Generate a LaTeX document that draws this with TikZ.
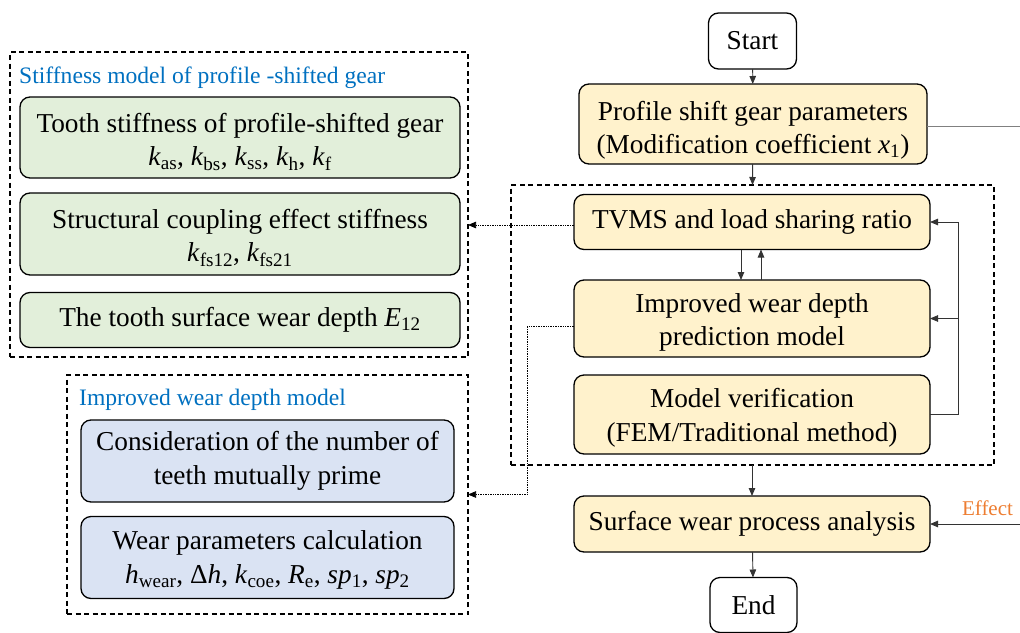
\documentclass[tikz,border=0pt]{standalone}
\usepackage{fontspec}
\setmainfont{Liberation Serif}
\usetikzlibrary{arrows.meta}
\definecolor{boxyellow}{HTML}{FFF2CC}
\definecolor{boxgreen}{HTML}{E2EFDA}
\definecolor{boxblue}{HTML}{DAE3F3}
\definecolor{titleblue}{HTML}{0070C0}
\definecolor{effectorange}{HTML}{ED7D31}
\definecolor{linegray}{HTML}{333333}
% tall strut that lowers a two-line label inside its box
\newcommand\lowerstrut[1]{\rule{0pt}{#1}}
\begin{document}
\begin{tikzpicture}[x=1pt,y=-1pt,
  basebox/.style={draw=black, line width=1.3pt, rounded corners=10pt, align=center,
    inner sep=0pt, outer sep=0pt, font=\fontsize{27.3}{33.5}\selectfont},
  flowbox/.style={basebox, fill=boxyellow},
  termbox/.style={basebox, fill=white},
  greenbox/.style={basebox, fill=boxgreen},
  bluebox/.style={basebox, fill=boxblue},
  groupbox/.style={draw=black, line width=1.2pt, dash pattern=on 5pt off 3.5pt,
    inner sep=0pt, outer sep=0pt},
  grouptitle/.style={anchor=base west, text=titleblue, inner sep=0pt,
    font=\fontsize{23.6}{26}\selectfont},
  conn/.style={draw=linegray, line width=0.9pt, -{Triangle[length=8pt,width=6.5pt]}},
  dotconn/.style={draw=black, line width=0.7pt, densely dotted,
    -{Triangle[length=8pt,width=6.5pt]}},
]
\useasboundingbox (0,0) rectangle (1020,632);

% ---------- main flow ----------
\node[termbox, minimum width=88pt, minimum height=56pt] (start) at (752.5,41) {Start};
\node[flowbox, minimum width=348pt, minimum height=80pt] (prof) at (753,124)
  {\lowerstrut{32pt}Profile shift gear parameters\\(Modification coefficient \textit{x}\textsubscript{1})};

\node[groupbox, minimum width=483pt, minimum height=280pt] (core) at (752.5,325) {};
\node[flowbox, minimum width=356pt, minimum height=55pt] (tvms) at (752,222)
  {TVMS and load sharing ratio};
\node[flowbox, minimum width=356pt, minimum height=77pt] (imp) at (752,318.5)
  {\lowerstrut{27pt}Improved wear depth\\prediction model};
\node[flowbox, minimum width=356pt, minimum height=79pt] (ver) at (752,414.5)
  {\lowerstrut{26pt}Model verification\\(FEM/Traditional method)};

\node[flowbox, minimum width=356pt, minimum height=56pt] (sur) at (752,524)
  {Surface wear process analysis};
\node[termbox, minimum width=87pt, minimum height=55pt] (end) at (753.5,605) {End};

% ---------- stiffness model group ----------
\node[groupbox, minimum width=458pt, minimum height=305pt] (stiff) at (239,204.5) {};
\node[grouptitle] (stifftitle) at (19,83) {Stiffness model of profile -shifted gear};
\node[greenbox, minimum width=440pt, minimum height=81pt] (tooth) at (240,137.5)
  {\lowerstrut{28pt}Tooth stiffness of profile-shifted gear\\
   \textit{k}\textsubscript{as}, \textit{k}\textsubscript{bs}, \textit{k}\textsubscript{ss},
   \textit{k}\textsubscript{h}, \textit{k}\textsubscript{f}};
\node[greenbox, minimum width=440pt, minimum height=82pt] (coup) at (240,234)
  {\lowerstrut{27pt}Structural coupling effect stiffness\\
   \textit{k}\textsubscript{fs12}, \textit{k}\textsubscript{fs21}};
\node[greenbox, minimum width=440pt, minimum height=55pt] (wdep) at (240,320)
  {The tooth surface wear depth \textit{E}\textsubscript{12}};

% ---------- wear depth model group ----------
\node[groupbox, minimum width=401pt, minimum height=239pt] (wear) at (267.5,494.5) {};
\node[grouptitle] (weartitle) at (79,405) {Improved wear depth model};
\node[bluebox, minimum width=373pt, minimum height=82pt] (prime) at (267.5,461)
  {Consideration of the number of\\teeth mutually prime};
\node[bluebox, minimum width=373pt, minimum height=82pt] (calc) at (267.5,557.5)
  {\lowerstrut{24pt}Wear parameters calculation\\
   \textit{h}\textsubscript{wear}, Δ\textit{h}, \textit{k}\textsubscript{coe},
   \textit{R}\textsubscript{e}, \textit{sp}\textsubscript{1}, \textit{sp}\textsubscript{2}};

% ---------- connectors ----------
\draw[conn] (start) -- (prof);
\draw[conn] (prof) -- (core.north);
\draw[conn] ([xshift=-11pt]tvms.south) -- ([xshift=-11pt]tvms.south |- imp.north);
\draw[conn] ([xshift=9pt]imp.north) -- ([xshift=9pt]imp.north |- tvms.south);

\coordinate (fb) at (958,0);
\draw[conn] (ver.east) -| (fb |- tvms.east) -- (tvms.east);
\draw[conn] (fb |- imp.east) -- (imp.east);

\draw[conn] (core.south -| sur.north) -- (sur.north);
\draw[conn] (sur) -- (end);

\coordinate (effin) at (1020,0);
\draw[conn] (effin |- sur.east) -- (sur.east);
\node[text=effectorange, font=\fontsize{21}{24}\selectfont, inner sep=0pt] (effect)
  at (987.5,508) {Effect};

\coordinate (shiftout) at (1020,0);
\draw[draw=gray, line width=1pt] ([yshift=-2pt]prof.east) -- ([yshift=-2pt]prof.east -| shiftout);

\draw[dotconn] ([yshift=-3pt]tvms.west) -- ([yshift=-3pt]tvms.west -| stiff.east);
\coordinate (drop) at (527,0);
\draw[dotconn] ([yshift=-8pt]imp.west) -| (drop |- wear.east) -- (wear.east);
\end{tikzpicture}
\end{document}
